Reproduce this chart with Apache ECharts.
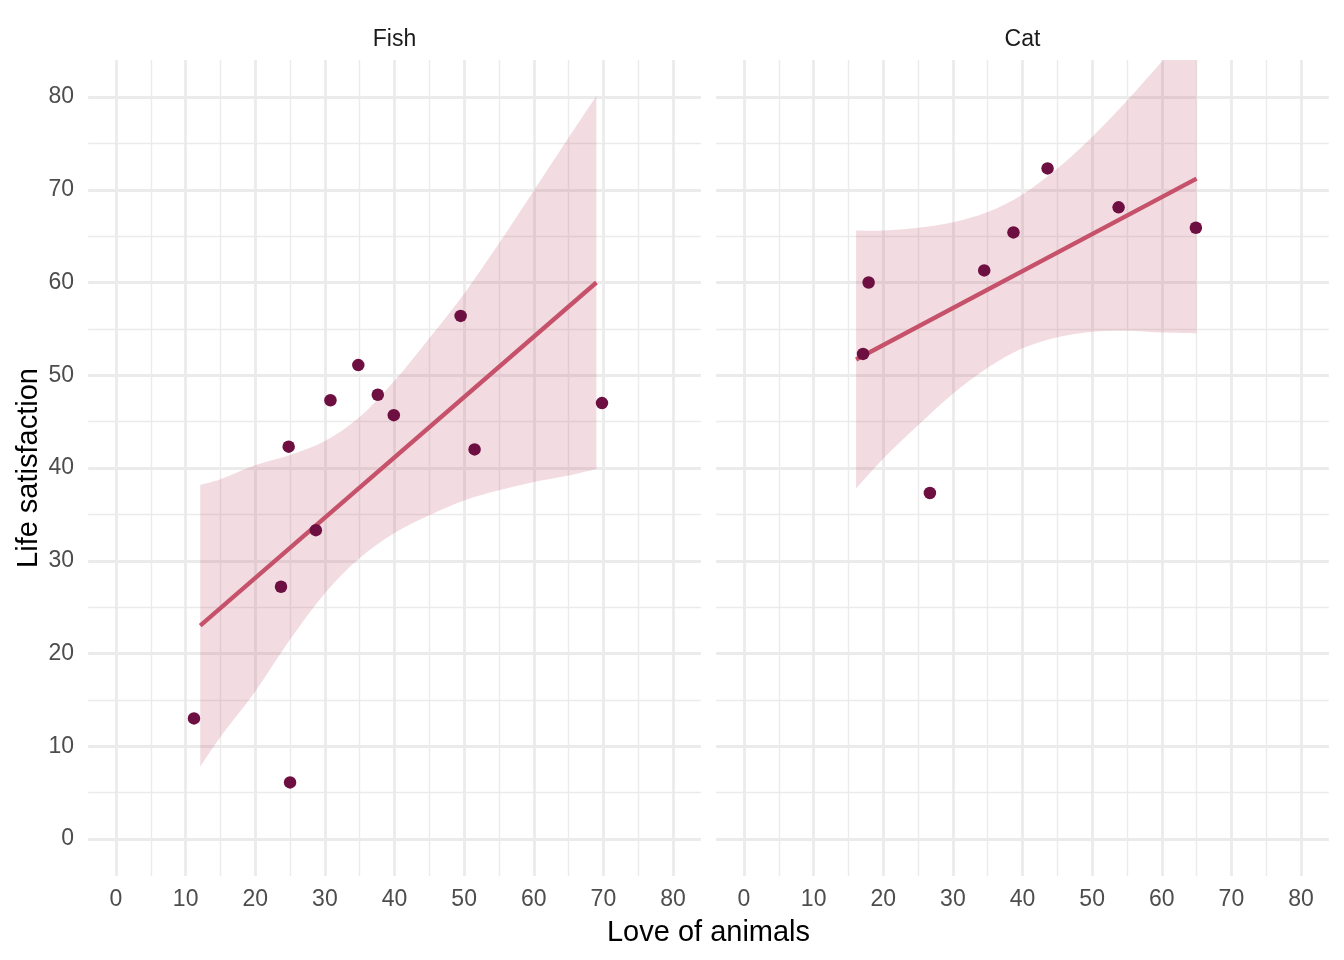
<!DOCTYPE html>
<html><head><meta charset="utf-8">
<script src="https://cdn.jsdelivr.net/npm/echarts@6/dist/echarts.min.js"></script>
<style>html,body{margin:0;padding:0;background:#fff}#c{width:1344px;height:960px}</style>
</head><body><div id="c"></div>
<script>
// ---- data ----
const panels = ['Fish', 'Cat'];

const fishX = [11.2, 25.0, 24.8, 23.7, 28.7, 30.8, 34.8, 37.6, 39.9, 49.5, 51.5, 69.8];
const fishY = [13.0, 6.1, 42.3, 27.2, 33.3, 47.3, 51.1, 47.9, 45.7, 56.4, 42.0, 47.0];
const catX  = [17.9, 17.1, 26.7, 34.5, 38.7, 43.6, 53.8, 64.9];
const catY  = [60.0, 52.3, 37.3, 61.3, 65.4, 72.3, 68.1, 65.9];

const fishFitX = [12.1, 69.0];
const fishFitY = [23.0, 60.0];
const catFitX  = [16.1, 65.0];
const catFitY  = [51.7, 71.2];

const fishBandX  = [12.1, 15, 20, 25, 30, 35, 40, 45, 50, 55, 60, 65, 69];
const fishBandLo = [7.8, 11.0, 15.9, 21.5, 26.5, 30.3, 33.0, 34.9, 36.5, 37.6, 38.5, 39.2, 39.9];
const fishBandHi = [38.2, 38.8, 40.3, 41.4, 42.9, 45.5, 49.4, 54.0, 58.8, 64.2, 69.9, 75.6, 80.1];
const catBandX   = [16.1, 20, 25, 30, 35, 40, 45, 50, 55, 60, 65];
const catBandLo  = [37.8, 41.0, 44.6, 48.0, 50.8, 52.9, 54.1, 54.7, 54.8, 54.6, 54.5];
const catBandHi  = [65.6, 65.6, 65.9, 66.5, 67.6, 69.5, 72.3, 75.7, 79.6, 83.8, 87.9];

const majorTicks = [0, 10, 20, 30, 40, 50, 60, 70, 80];
const minorTicks = [5, 15, 25, 35, 45, 55, 65, 75];

const xTitle = 'Love of animals';
const yTitle = 'Life satisfaction';

// ---- styling ----
const FONT = '"Liberation Sans", Arial, Helvetica, sans-serif';
const POINT = '#6E0F41';
const LINE = '#C5526A';
const BAND = 'rgba(197,82,106,0.2)';
const GRID = '#EBEBEB';

const chart = echarts.init(document.getElementById('c'), null, {renderer: 'canvas'});

const gridBoxes = [
  {left: 88.15, top: 59.9, width: 612.7, height: 816.2},
  {left: 716.15, top: 59.9, width: 612.7, height: 816.2}
];

function gridLines() {
  const d = [];
  majorTicks.forEach(v => {
    d.push({xAxis: v, lineStyle: {width: 2.8, color: GRID, type: 'solid'}});
    d.push({yAxis: v, lineStyle: {width: 2.8, color: GRID, type: 'solid'}});
  });
  minorTicks.forEach(v => {
    d.push({xAxis: v, lineStyle: {width: 1.4, color: GRID, type: 'solid'}});
    d.push({yAxis: v, lineStyle: {width: 1.4, color: GRID, type: 'solid'}});
  });
  return d;
}

const pts = [fishX.map((x, i) => [x, fishY[i]]), catX.map((x, i) => [x, catY[i]])];
const fits = [fishFitX.map((x, i) => [x, fishFitY[i]]), catFitX.map((x, i) => [x, catFitY[i]])];
const bands = [
  {x: fishBandX, lo: fishBandLo, hi: fishBandHi},
  {x: catBandX, lo: catBandLo, hi: catBandHi}
];

// Catmull-Rom through pixel points -> cubic bezier path segments
function smoothSeg(p) {
  let s = '';
  for (let i = 0; i < p.length - 1; i++) {
    const p0 = p[Math.max(0, i - 1)], p1 = p[i], p2 = p[i + 1], p3 = p[Math.min(p.length - 1, i + 2)];
    const c1 = [p1[0] + (p2[0] - p0[0]) / 6, p1[1] + (p2[1] - p0[1]) / 6];
    const c2 = [p2[0] - (p3[0] - p1[0]) / 6, p2[1] - (p3[1] - p1[1]) / 6];
    s += ' C' + c1[0] + ',' + c1[1] + ' ' + c2[0] + ',' + c2[1] + ' ' + p2[0] + ',' + p2[1];
  }
  return s;
}

function bandRenderer(b) {
  return function (params, api) {
    if (params.dataIndex !== 0) return null;
    const upper = b.x.map((x, k) => api.coord([x, b.hi[k]]));
    const lower = b.x.map((x, k) => api.coord([x, b.lo[k]])).reverse();
    const d = 'M' + upper[0][0] + ',' + upper[0][1] + smoothSeg(upper) +
      ' L' + lower[0][0] + ',' + lower[0][1] + smoothSeg(lower) + ' Z';
    const cs = params.coordSys;
    return {
      type: 'path',
      shape: {pathData: d},
      style: {fill: BAND, stroke: null},
      clipPath: {type: 'rect', shape: {x: cs.x, y: cs.y, width: cs.width, height: cs.height}},
      silent: true
    };
  };
}

const xAxes = [], yAxes = [], series = [];
panels.forEach((p, i) => {
  xAxes.push({
    type: 'value', gridIndex: i, min: -4, max: 84,
    axisLine: {show: false}, axisTick: {show: false}, splitLine: {show: false},
    axisLabel: {customValues: majorTicks, color: '#4D4D4D', fontSize: 23, fontFamily: FONT, margin: 12}
  });
  yAxes.push({
    type: 'value', gridIndex: i, min: -4, max: 84,
    axisLine: {show: false}, axisTick: {show: false}, splitLine: {show: false},
    axisLabel: {show: i === 0, customValues: majorTicks, color: '#4D4D4D', fontSize: 23, fontFamily: FONT, margin: 14},
    name: i === 0 ? yTitle : '', nameLocation: 'middle', nameGap: 45,
    nameTextStyle: {fontSize: 29, color: '#000', fontFamily: FONT}
  });
  series.push({
    type: 'scatter', xAxisIndex: i, yAxisIndex: i, data: [], z: 0, silent: true,
    markLine: {silent: true, symbol: ['none', 'none'], label: {show: false}, animation: false, z: 0, data: gridLines()}
  });
  const b = bands[i];
  series.push({
    type: 'custom', xAxisIndex: i, yAxisIndex: i, z: 2, silent: true, clip: true,
    renderItem: bandRenderer(b),
    encode: {x: 0, y: 1},
    data: b.x.map((x, k) => [x, b.lo[k], b.hi[k]])
  });
  series.push({
    type: 'line', xAxisIndex: i, yAxisIndex: i, symbol: 'none', z: 3,
    lineStyle: {color: LINE, width: 4.3}, data: fits[i]
  });
  series.push({
    type: 'scatter', xAxisIndex: i, yAxisIndex: i, symbolSize: 12.5, z: 4,
    itemStyle: {color: POINT, opacity: 1}, data: pts[i]
  });
});

chart.setOption({
  animation: false,
  backgroundColor: '#fff',
  title: [
    {text: panels[0], left: 394.5, top: 28, textAlign: 'center', padding: 0,
     textStyle: {fontSize: 23, fontWeight: 'normal', color: '#1A1A1A', fontFamily: FONT}},
    {text: panels[1], left: 1022.5, top: 28, textAlign: 'center', padding: 0,
     textStyle: {fontSize: 23, fontWeight: 'normal', color: '#1A1A1A', fontFamily: FONT}},
    {text: xTitle, left: 708.5, top: 918, textAlign: 'center', padding: 0,
     textStyle: {fontSize: 29, fontWeight: 'normal', color: '#000', fontFamily: FONT}}
  ],
  grid: gridBoxes,
  xAxis: xAxes,
  yAxis: yAxes,
  series: series
});
</script>
</body></html>
